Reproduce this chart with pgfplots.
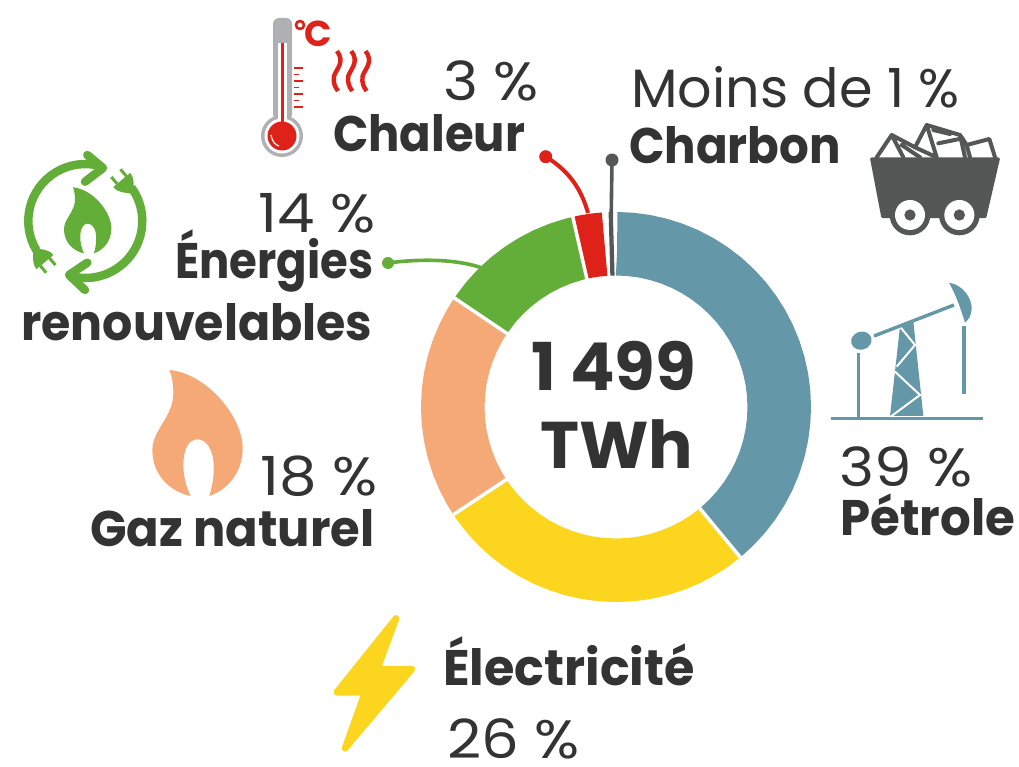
\documentclass[border=0pt]{standalone}
\usepackage{fontspec}
\usepackage{graphicx}
\usepackage{pgfplots}
\pgfplotsset{compat=1.18}
\usepgfplotslibrary{polar}
\setmainfont{Poppins}
\definecolor{petrole}{HTML}{6497A8}
\definecolor{elec}{HTML}{FBD51E}
\definecolor{gaz}{HTML}{F4A977}
\definecolor{renouv}{HTML}{63AD39}
\definecolor{chaleur}{HTML}{DE2119}
\definecolor{charbon}{HTML}{555756}
\definecolor{txt}{HTML}{333333}
\definecolor{thermo}{HTML}{AFB0B4}
\newcommand\reg{\fontsize{54}{60}\selectfont}
\newcommand\bld{\fontsize{50}{60}\selectfont\bfseries}
\newcommand\bigb{\fontsize{66}{80}\selectfont\bfseries}
\newcommand\pct[1]{\scalebox{1.1}[1]{#1 \%}}
\newcommand\flamepath{(148,30) .. controls (260,40) and (368,170) .. (368,265)
  .. controls (368,340) and (320,390) .. (268,408)
  .. controls (278,375) and (282,345) .. (281,320)
  .. controls (281,270) and (260,238) .. (232,238)
  .. controls (205,238) and (190,270) .. (190,315)
  .. controls (190,350) and (200,385) .. (212,408)
  .. controls (150,395) and (97,345) .. (97,270)
  .. controls (97,210) and (160,170) .. (160,100)
  .. controls (160,70) and (155,45) .. (148,30) -- cycle}
\newcommand\plug[3]{\begin{scope}[shift={(#1,#2)},rotate=#3]
  \fill[renouv] (0pt,11pt) -- (0pt,-11pt) .. controls (-8pt,-11pt) and (-12pt,-5pt) .. (-16pt,-2pt)
    -- (-16pt,2pt) .. controls (-12pt,5pt) and (-8pt,11pt) .. (0pt,11pt) -- cycle;
  \draw[renouv,line width=3pt] (0pt,6pt) -- (9pt,6pt) (0pt,-6pt) -- (9pt,-6pt);
\end{scope}}
\begin{document}
\begin{tikzpicture}[x=1pt,y=-1pt]
\useasboundingbox (0,767) rectangle (1019,0);
\begin{polaraxis}[
  at={(616pt,-407pt)}, anchor=center,
  scale only axis, width=390pt, height=390pt,
  ymin=0, ymax=195,
  hide axis, clip=false,
  every axis plot/.append style={line join=round, line cap=butt, no markers}
]
% ring sectors: angle in degrees, 90 = top, going clockwise
\addplot[petrole,line width=63.5pt] coordinates {(89.6,163.25)(89.5,163.25)(85,163.25)(80,163.25)(75,163.25)(70,163.25)(65,163.25)(60,163.25)(55,163.25)(50,163.25)(45,163.25)(40,163.25)(35,163.25)(30,163.25)(25,163.25)(20,163.25)(15,163.25)(10,163.25)(5,163.25)(0,163.25)(-5,163.25)(-10,163.25)(-15,163.25)(-20,163.25)(-25,163.25)(-30,163.25)(-35,163.25)(-40,163.25)(-45,163.25)(-50,163.25)(-50.4,163.25)};
\addplot[elec,line width=63.5pt] coordinates {(-50.4,163.25)(-55,163.25)(-60,163.25)(-65,163.25)(-70,163.25)(-75,163.25)(-80,163.25)(-85,163.25)(-90,163.25)(-95,163.25)(-100,163.25)(-105,163.25)(-110,163.25)(-115,163.25)(-120,163.25)(-125,163.25)(-130,163.25)(-135,163.25)(-140,163.25)(-145,163.25)(-146.5,163.25)};
\addplot[gaz,line width=63.5pt] coordinates {(-146.5,163.25)(-150,163.25)(-155,163.25)(-160,163.25)(-165,163.25)(-170,163.25)(-175,163.25)(-180,163.25)(-185,163.25)(-190,163.25)(-195,163.25)(-200,163.25)(-205,163.25)(-210,163.25)(-214,163.25)};
\addplot[renouv,line width=63.5pt] coordinates {(-214,163.25)(-220,163.25)(-225,163.25)(-230,163.25)(-235,163.25)(-240,163.25)(-245,163.25)(-250,163.25)(-255,163.25)(-257.2,163.25)};
\addplot[chaleur,line width=63.5pt] coordinates {(-257.2,163.25)(-260,163.25)(-263,163.25)(-265.9,163.25)(-266,163.25)};
\addplot[charbon,line width=63.5pt] coordinates {(-267.7,163.25)(-269.2,163.25)};
% white gaps between the sectors
\addplot[white,line width=3.5pt] coordinates {(-50.4,128)(-50.4,198)};
\addplot[white,line width=3.5pt] coordinates {(-146.5,128)(-146.5,198)};
\addplot[white,line width=3.5pt] coordinates {(-214,128)(-214,198)};
\addplot[white,line width=3.5pt] coordinates {(-257.2,128)(-257.2,198)};
\end{polaraxis}

% leaders
\draw[chaleur,line width=4pt] (545.7,156.7) .. controls (573,173) and (583,195) .. (588,213);
\fill[chaleur] (545.7,156.7) circle[radius=6.5pt];
\draw[charbon,line width=3.6pt] (612,160) -- (611,229);
\fill[charbon] (612,160) circle[radius=6.5pt];
\draw[renouv,line width=3.6pt] (388,263) .. controls (425,258) and (460,260) .. (482,268);
\fill[renouv] (388,263) circle[radius=6pt];

% labels
\begin{scope}[every node/.style={anchor=base west,inner sep=0pt,text=txt}]
\node[font=\bigb] at (531,390) {1 499};
\node[font=\bigb] at (540,468) {TWh};
\node[font=\reg] at (443,101) {\pct{3}};
\node[font=\bld] at (333,152) {\scalebox{.93}[1]{Chaleur}};
\node[font=\reg] at (631,108) {Moins de 1 \%};
\node[font=\bld] at (629,164) {\scalebox{.934}[1]{Charbon}};
\node[font=\reg] at (258,233) {\pct{14}};
\node[font=\bld] at (175,278) {\scalebox{.90}[1]{Énergies}};
\node[font=\bld] at (21,340) {\scalebox{.95}[1]{renouvelables}};
\node[font=\reg] at (260,495) {\pct{18}};
\node[font=\bld] at (90,546) {\scalebox{.96}[1]{Gaz naturel}};
\node[font=\reg] at (839,486) {\pct{39}};
\node[font=\bld] at (840,535) {\scalebox{.965}[1]{Pétrole}};
\node[font=\bld] at (443,685) {\scalebox{.985}[1]{Électricité}};
\node[font=\reg] at (447,758) {\pct{26}};
\end{scope}

% thermometer
\fill[thermo,rounded corners=6pt] (273,18) rectangle (292,120);
\fill[thermo] (282,136) circle[radius=21pt];
\fill[white] (278,43) rectangle (287,125);
\fill[white] (282,136) circle[radius=17.5pt];
\fill[chaleur] (281,43) rectangle (284.4,125);
\fill[chaleur] (282,136) circle[radius=14.5pt];
\draw[white,line width=1.2pt] (271,135) .. controls (272,141) and (275,145) .. (279,146);
\draw[chaleur,line width=1.4pt] (294,68) -- (303,68) (294,74.5) -- (299,74.5) (294,81) -- (303,81) (294,87.5) -- (299,87.5) (294,94) -- (303,94) (294,100.5) -- (299,100.5) (294,107) -- (303,107);
\draw[chaleur,line width=2.6pt] (300,25) circle[radius=4pt];
\node[anchor=base west,inner sep=0pt,text=chaleur,font=\fontsize{36}{40}\selectfont\bfseries] at (304,47) {C};
\foreach \dx in {0,14.3,28.6}
  \draw[chaleur,line width=4.4pt,xshift=\dx pt] (337,51) .. controls (345,62) and (337,68) .. (334,76) .. controls (333,83) and (335,87) .. (338,91);

% recycling ring with plugs and flame
\draw[renouv,line width=8.5pt] ([shift={(85.3,221)}]211:57pt) arc[start angle=211,end angle=75,radius=57pt];
\draw[renouv,line width=8.5pt] ([shift={(85.3,221)}]36:57pt) arc[start angle=36,end angle=-105,radius=57pt];
\draw[renouv,line width=8.5pt,line cap=round,line join=round] (87.3,155) -- (103,168) -- (85,181.7);
\draw[renouv,line width=8.5pt,line cap=round,line join=round] (87.3,262.7) -- (69,275) -- (85,290);
\plug{121.7}{180}{130}
\plug{45}{262}{-50}
\begin{scope}[shift={(47,182)},scale=0.175]
\fill[renouv] \flamepath;
\end{scope}

% gas flame
\begin{scope}[shift={(120,360)},scale=1/3]
\fill[gaz] \flamepath;
\end{scope}

% lightning
\begin{scope}[shift={(320,600)},scale=1/3]
\filldraw[elec,line width=6.5pt,line join=round] (228,55) -- (172,207) -- (276,207) -- (75,445) -- (135,277) -- (50,277) -- cycle;
\end{scope}

% coal cart
\begin{scope}[shift={(800,110)},scale=1/3]
\draw[charbon,line width=4pt,line join=round,line cap=round] (230,142) -- (275,75) -- (345,112) -- (380,45) -- (480,75) -- (500,105) -- (568,87) -- (585,142)
  (275,75) -- (310,142) (305,105) -- (360,142) (345,112) -- (410,142) (380,45) -- (410,142)
  (400,60) -- (450,72) (415,100) -- (488,85) (480,75) -- (495,142) (500,105) -- (510,142);
\filldraw[charbon,line width=3pt,line join=round] (215,147) -- (595,147) -- (555,320) -- (248,320) -- cycle;
\foreach \cx in {330,478} {
  \fill[charbon] (\cx,315) circle[radius=61pt];
  \fill[white] (\cx,315) circle[radius=45pt];
  \fill[charbon] (\cx,315) circle[radius=17pt];
}
\end{scope}

% oil pump
\begin{scope}[shift={(800,110)},scale=1/3]
\draw[petrole,line width=2.6pt] (92,925) -- (548,925);
\fill[petrole] (270,918) -- (370,918) -- (340,635) -- (300,650) -- cycle;
\draw[white,line width=2pt] (300,650) -- (345,705) -- (290,770) (285,785) -- (360,855) -- (272,920);
\draw[petrole,line width=3.4pt] (222,678) -- (462,585);
\fill[petrole] (447,518) .. controls (490,525) and (515,565) .. (515,595) .. controls (515,615) and (505,630) .. (495,638) .. controls (480,590) and (470,560) .. (447,518) -- cycle;
\fill[petrole,rotate around={15:(184,692)}] (184,692) ellipse[x radius=31pt,y radius=27pt];
\draw[petrole,line width=3.3pt] (176,730) -- (176,920);
\draw[petrole,line width=3.8pt] (492,648) -- (492,852);
\end{scope}
\end{tikzpicture}
\end{document}
